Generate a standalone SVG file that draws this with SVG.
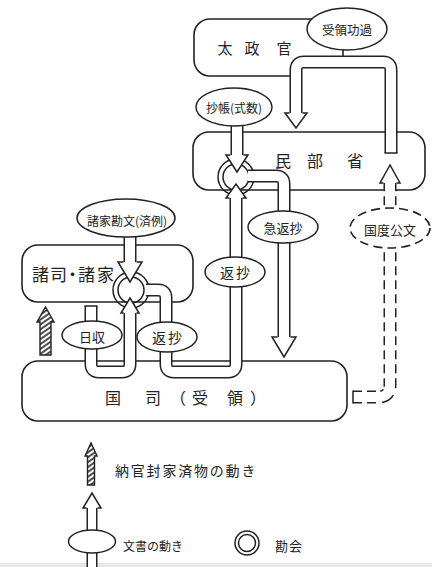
<svg xmlns="http://www.w3.org/2000/svg" width="432" height="567" viewBox="0 0 432 567">
<defs>
<style>
.box{fill:#fff;stroke:#222;stroke-width:1.6}
.po{fill:none;stroke:#222;stroke-width:13}
.pi{fill:none;stroke:#fff;stroke-width:10}
.pd{fill:none;stroke:#222;stroke-width:13;stroke-dasharray:9 5}
.hd{fill:#fff;stroke:#222;stroke-width:1.5;stroke-linejoin:miter}
.cap{fill:none;stroke:#222;stroke-width:1.5}
.el{fill:#fff;stroke:#222;stroke-width:1.5}
.eld{fill:#fff;stroke:#222;stroke-width:1.6;stroke-dasharray:9 5}
.ring{fill:none;stroke:#222;stroke-width:1.5}
.t{font-family:"Noto Sans CJK JP","Noto Sans CJK SC",sans-serif;fill:#222;text-anchor:middle;dominant-baseline:central}
.hat{fill:url(#hatch);stroke:#222;stroke-width:1.4}
</style>
<pattern id="hatch" patternUnits="userSpaceOnUse" width="4" height="4" patternTransform="rotate(-35)">
<rect width="4" height="4" fill="#fff"/>
<line x1="0" y1="1" x2="4" y2="1" stroke="#222" stroke-width="1.6"/>
</pattern>
</defs>
<rect width="432" height="567" fill="#fff"/>
<rect x="0" y="563" width="432" height="4" fill="#e8e8e8"/>

<g id="dajokan">
<path class="box" d="M300,76 H210 A16,16 0 0 1 194,60 V35 A16,16 0 0 1 210,19 H327 A16,16 0 0 1 343,35 V60"/>
<text class="t" font-size="15" x="225 252 284" y="47">太政官</text>
</g>
<g id="minbusho">
<rect class="box" x="193" y="132" width="232" height="58" rx="16"/>
<text class="t" font-size="16" x="283 315 355" y="160">民部省</text>
</g>
<g id="shoshi">
<rect class="box" x="22" y="245" width="171" height="57" rx="16"/>
<text class="t" font-size="17" x="32 50 64 78 97" y="273" style="text-anchor:start">諸司・諸家</text>
</g>
<g id="kokushi">
<rect class="box" x="22" y="361" width="325" height="60" rx="16"/>
<text class="t" font-size="16" x="113 153 178 200 235 258" y="397">国司（受領）</text>
</g>
<g id="kankai-rings">
<circle class="ring" cx="236" cy="177" r="18"/>
<circle class="ring" cx="236" cy="177" r="13"/>
<circle class="ring" cx="131" cy="290" r="18"/>
<circle class="ring" cx="131" cy="290" r="13"/>
</g>

<g id="connectors">
<path class="po" d="M391,153 V70 Q391,62 383,62 H304 Q296,62 296,70 V115"/>
<path class="pi" d="M391,153 V70 Q391,62 383,62 H304 Q296,62 296,70 V115"/>
<path class="cap" d="M384.5,153 H397.5"/>
<path class="hd" d="M289.5,113 L285,113 L296,128 L307,113 L302.5,113"/>

<path class="po" d="M237,115 V157"/>
<path class="pi" d="M237,115 V157"/>
<path class="hd" d="M230.5,155 L226,155 L237,172 L248,155 L243.5,155"/>

<path class="po" d="M236,196 V364 Q236,372 228,372 H174 Q166,372 166,364 V298 Q166,290 158,290 H146"/>
<path class="pi" d="M236,196 V364 Q236,372 228,372 H174 Q166,372 166,364 V298 Q166,290 158,290 H146"/>
<path class="hd" d="M229.5,198 L226,198 L236,184 L246,198 L242.5,198"/>

<path class="po" d="M248,176 H276 Q284,176 284,184 V339"/>
<path class="pi" d="M248,176 H276 Q284,176 284,184 V339"/>
<path class="hd" d="M277.5,337 L272,337 L284,357 L296,337 L290.5,337"/>

<path class="po" d="M91,306 V364 Q91,372 99,372 H122 Q130,372 130,364 V311"/>
<path class="pi" d="M91,306 V364 Q91,372 99,372 H122 Q130,372 130,364 V311"/>
<path class="cap" d="M84.5,306 H97.5"/>
<path class="hd" d="M123.5,313 L121,313 L130,298 L139,313 L136.5,313"/>

<path class="po" d="M130,225 V264"/>
<path class="pi" d="M130,225 V264"/>
<path class="hd" d="M123.5,262 L118,262 L130,282 L142,262 L136.5,262"/>

<path class="pd" d="M353,397 H378 Q390,397 390,385 V181"/>
<path class="pi" d="M353,397 H378 Q390,397 390,385 V181"/>
<path class="cap" d="M353,390.5 V403.5"/>
<path class="hd" d="M383.5,183 L380,183 L390,165 L400,183 L396.5,183"/>
</g>

<g id="juryo-koka">
<ellipse class="el" cx="347" cy="29" rx="40" ry="21"/>
<text class="t" font-size="12.5" x="347" y="29">受領功過</text>
</g>
<g id="shocho">
<ellipse class="el" cx="234" cy="107" rx="38" ry="19"/>
<text class="t" font-size="12" x="234" y="107">抄帳(式数)</text>
</g>
<g id="shoke-kanmon">
<ellipse class="el" cx="126" cy="218" rx="49" ry="19"/>
<text class="t" font-size="12" x="127" y="220">諸家勘文(済例)</text>
</g>
<g id="kyu-hensho">
<ellipse class="el" cx="283" cy="227" rx="35" ry="16"/>
<text class="t" font-size="13" x="283" y="227">急返抄</text>
</g>
<g id="kokudo-kumon">
<ellipse class="eld" cx="390" cy="228" rx="40" ry="20"/>
<text class="t" font-size="13" x="390" y="229">国度公文</text>
</g>
<g id="hensho-upper">
<ellipse class="el" cx="235" cy="272" rx="30" ry="15"/>
<text class="t" font-size="14" x="236" y="272" letter-spacing="2">返抄</text>
</g>
<g id="hensho-lower">
<ellipse class="el" cx="167" cy="337" rx="30" ry="15"/>
<text class="t" font-size="14" x="168" y="337" letter-spacing="2">返抄</text>
</g>
<g id="nissho">
<ellipse class="el" cx="92" cy="335" rx="30" ry="14"/>
<text class="t" font-size="13" x="92" y="336">日収</text>
</g>

<g id="hatched-arrow">
<path class="hat" d="M40,355 V322 H37 L45.5,307 L54,322 H51 V355 Z"/>
</g>

<g id="legend">
<path class="hat" d="M87.5,485 V456 H85 L91,443 L97,456 H94.5 V485 Z"/>
<text class="t" font-size="14" x="115" y="470" letter-spacing="1.8" style="text-anchor:start">納官封家済物の動き</text>
<path fill="none" stroke="#222" stroke-width="11" d="M92,506 V567"/>
<path fill="none" stroke="#fff" stroke-width="8" d="M92,506 V567"/>
<path class="hd" d="M86.5,508 L83,508 L92,493 L101,508 L97.5,508"/>
<ellipse class="el" cx="92" cy="541.5" rx="23.5" ry="11.5"/>
<text class="t" font-size="12" x="123" y="545" style="text-anchor:start">文書の動き</text>
<circle class="ring" cx="247" cy="543" r="12" stroke-width="1.8"/>
<circle class="ring" cx="247" cy="543" r="8.5" stroke-width="1.8"/>
<text class="t" font-size="13" x="275" y="545" letter-spacing="1" style="text-anchor:start">勘会</text>
</g>
</svg>
